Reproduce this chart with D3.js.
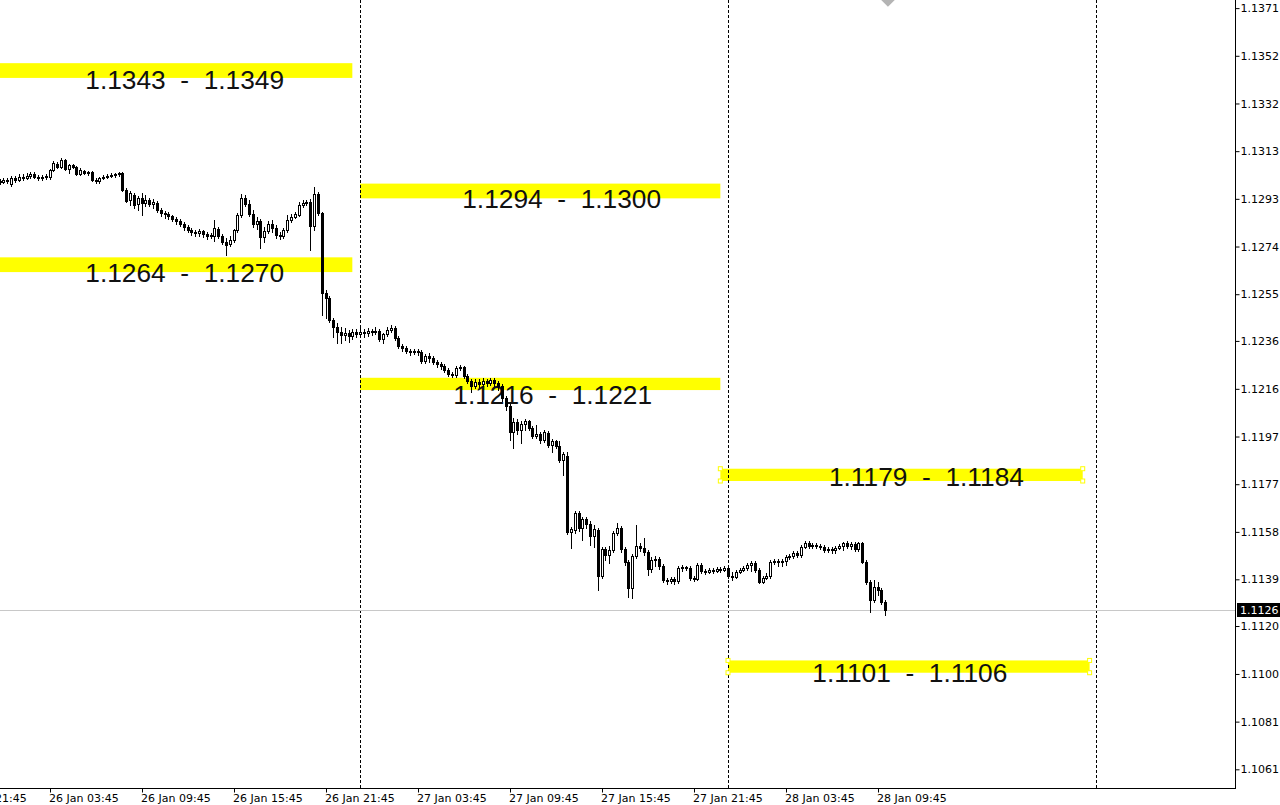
<!DOCTYPE html>
<html>
<head>
<meta charset="utf-8">
<script src="https://cdnjs.cloudflare.com/ajax/libs/d3/7.8.5/d3.min.js"></script>
<style>
  html, body { margin: 0; padding: 0; background: #fff; }
  svg { display: block; }
</style>
</head>
<body>
<div id="chart"></div>
<script>
// M15 candles, [open, high, low, close], one row per 15 minutes.
const jan26Start = "2022-01-26T00:30";
const jan26Bars = [
  [1.13010,1.13018,1.12998,1.13006],[1.13006,1.13023,1.13002,1.13014],[1.13014,1.13023,1.13002,1.13010],
  [1.12998,1.13031,1.12990,1.13023],[1.13023,1.13031,1.13006,1.13014],[1.13014,1.13039,1.13010,1.13027],
  [1.13027,1.13039,1.13014,1.13023],[1.13023,1.13043,1.13018,1.13031],[1.13031,1.13047,1.13023,1.13039],
  [1.13039,1.13047,1.13023,1.13027],[1.13027,1.13035,1.13014,1.13023],[1.13023,1.13035,1.13014,1.13027],
  [1.13027,1.13039,1.13018,1.13031],[1.13027,1.13059,1.13018,1.13055],[1.13055,1.13092,1.13051,1.13084],
  [1.13080,1.13088,1.13063,1.13067],[1.13067,1.13104,1.13063,1.13096],[1.13096,1.13100,1.13055,1.13059],
  [1.13059,1.13080,1.13043,1.13075],[1.13075,1.13080,1.13063,1.13067],[1.13067,1.13071,1.13035,1.13039],
  [1.13039,1.13063,1.13035,1.13055],[1.13051,1.13055,1.13039,1.13043],[1.13043,1.13051,1.13035,1.13047],
  [1.13047,1.13051,1.13010,1.13014],[1.13014,1.13023,1.13002,1.13010],[1.13010,1.13027,1.13002,1.13023],
  [1.13023,1.13035,1.13018,1.13027],[1.13027,1.13039,1.13023,1.13031],[1.13031,1.13043,1.13027,1.13035],
  [1.13035,1.13043,1.13027,1.13039],[1.13039,1.13047,1.13031,1.13043],[1.13043,1.13047,1.12970,1.12974],
  [1.12974,1.12982,1.12925,1.12929],[1.12933,1.12970,1.12913,1.12962],[1.12953,1.12962,1.12900,1.12913],
  [1.12917,1.12949,1.12892,1.12941],[1.12941,1.12962,1.12872,1.12921],[1.12921,1.12953,1.12909,1.12933],
  [1.12933,1.12941,1.12909,1.12917],[1.12917,1.12937,1.12900,1.12925],[1.12921,1.12929,1.12884,1.12892],
  [1.12892,1.12900,1.12868,1.12880],[1.12880,1.12888,1.12860,1.12876],[1.12876,1.12884,1.12856,1.12868],
  [1.12868,1.12872,1.12848,1.12856],[1.12856,1.12864,1.12835,1.12848],[1.12848,1.12856,1.12827,1.12835],
  [1.12835,1.12843,1.12811,1.12823],[1.12823,1.12831,1.12803,1.12811],[1.12811,1.12819,1.12791,1.12803],
  [1.12803,1.12811,1.12786,1.12799],[1.12799,1.12815,1.12786,1.12807],[1.12807,1.12811,1.12782,1.12795],
  [1.12795,1.12803,1.12774,1.12786],[1.12786,1.12799,1.12778,1.12791],[1.12786,1.12852,1.12766,1.12819],
  [1.12815,1.12823,1.12778,1.12786],[1.12786,1.12795,1.12754,1.12762],[1.12762,1.12778,1.12709,1.12750],
  [1.12754,1.12786,1.12746,1.12770],[1.12770,1.12815,1.12762,1.12811],[1.12811,1.12880,1.12803,1.12872],
  [1.12872,1.12957,1.12864,1.12941],[1.12941,1.12953,1.12909,1.12917],[1.12917,1.12933,1.12868,1.12876],
  [1.12876,1.12892,1.12823,1.12835],[1.12835,1.12864,1.12815,1.12848],[1.12848,1.12856,1.12738,1.12782],
  [1.12782,1.12823,1.12762,1.12807],[1.12807,1.12848,1.12799,1.12835],[1.12835,1.12852,1.12803,1.12819],
  [1.12819,1.12831,1.12778,1.12791],[1.12791,1.12803,1.12774,1.12786],[1.12786,1.12819,1.12778,1.12811],
  [1.12811,1.12872,1.12803,1.12852],[1.12852,1.12876,1.12843,1.12864],[1.12864,1.12884,1.12860,1.12876],
  [1.12872,1.12925,1.12868,1.12913],[1.12913,1.12933,1.12905,1.12921],[1.12921,1.12933,1.12913,1.12925],
  [1.12925,1.12937,1.12730,1.12827],[1.12827,1.12986,1.12811,1.12957],[1.12957,1.12966,1.12872,1.12880],
  [1.12880,1.12884,1.12465,1.12554],[1.12554,1.12567,1.12453,1.12534],[1.12534,1.12542,1.12436,1.12445],
  [1.12445,1.12453,1.12375,1.12416],[1.12416,1.12432,1.12351,1.12396],[1.12396,1.12416,1.12351,1.12384],
  [1.12384,1.12412,1.12363,1.12392],[1.12392,1.12404,1.12355,1.12380],[1.12380,1.12408,1.12367,1.12396],
  [1.12396,1.12408,1.12375,1.12388]
];

const jan27Start = "2022-01-27T00:00";
const jan27Bars = [
  [1.12388,1.12412,1.12380,1.12396],[1.12396,1.12408,1.12375,1.12392],[1.12392,1.12412,1.12380,1.12400],
  [1.12400,1.12408,1.12384,1.12396],[1.12396,1.12416,1.12388,1.12400],[1.12400,1.12408,1.12359,1.12367],
  [1.12367,1.12392,1.12351,1.12388],[1.12388,1.12416,1.12380,1.12404],[1.12404,1.12424,1.12396,1.12412],
  [1.12412,1.12420,1.12363,1.12371],[1.12371,1.12380,1.12331,1.12339],[1.12339,1.12347,1.12318,1.12331],
  [1.12331,1.12339,1.12310,1.12318],[1.12318,1.12327,1.12302,1.12314],[1.12314,1.12327,1.12306,1.12318],
  [1.12318,1.12327,1.12302,1.12314],[1.12314,1.12323,1.12270,1.12278],[1.12278,1.12306,1.12270,1.12298],
  [1.12298,1.12310,1.12274,1.12290],[1.12290,1.12298,1.12266,1.12274],[1.12274,1.12282,1.12253,1.12266],
  [1.12266,1.12274,1.12245,1.12257],[1.12257,1.12266,1.12233,1.12241],[1.12241,1.12249,1.12217,1.12225],
  [1.12225,1.12233,1.12213,1.12221],[1.12221,1.12257,1.12213,1.12249],[1.12249,1.12261,1.12241,1.12253],
  [1.12253,1.12257,1.12209,1.12217],[1.12217,1.12225,1.12188,1.12196],[1.12196,1.12205,1.12152,1.12176],
  [1.12176,1.12205,1.12168,1.12192],[1.12192,1.12205,1.12172,1.12184],[1.12184,1.12209,1.12176,1.12196],
  [1.12196,1.12205,1.12176,1.12188],[1.12188,1.12209,1.12180,1.12200],[1.12200,1.12209,1.12176,1.12188],
  [1.12188,1.12196,1.12160,1.12176],[1.12176,1.12184,1.12115,1.12127],[1.12127,1.12135,1.12078,1.12095],
  [1.12095,1.12103,1.11956,1.11989],[1.11989,1.12046,1.11924,1.12030],[1.12030,1.12042,1.11981,1.11997],
  [1.11997,1.12034,1.11944,1.12021],[1.12021,1.12042,1.11997,1.12034],[1.12034,1.12038,1.11997,1.12005],
  [1.12005,1.12013,1.11964,1.11973],[1.11973,1.12017,1.11964,1.11981],[1.11981,1.11989,1.11944,1.11956],
  [1.11956,1.11997,1.11948,1.11989],[1.11985,1.11993,1.11928,1.11936],[1.11936,1.11960,1.11907,1.11952],
  [1.11952,1.11956,1.11924,1.11932],[1.11932,1.11952,1.11867,1.11875],[1.11875,1.11907,1.11814,1.11899],
  [1.11891,1.11907,1.11574,1.11582],[1.11582,1.11602,1.11517,1.11594],[1.11590,1.11667,1.11578,1.11659],
  [1.11659,1.11667,1.11586,1.11598],[1.11598,1.11643,1.11549,1.11635],[1.11635,1.11643,1.11598,1.11614],
  [1.11614,1.11627,1.11529,1.11566],[1.11566,1.11610,1.11521,1.11594],[1.11590,1.11598,1.11346,1.11403],
  [1.11403,1.11521,1.11395,1.11513],[1.11513,1.11521,1.11468,1.11488],[1.11488,1.11525,1.11456,1.11509],
  [1.11509,1.11586,1.11500,1.11578],[1.11578,1.11618,1.11570,1.11598],[1.11598,1.11606,1.11500,1.11513],
  [1.11513,1.11521,1.11447,1.11460],[1.11460,1.11468,1.11317,1.11354],[1.11354,1.11492,1.11313,1.11484],
  [1.11484,1.11610,1.11476,1.11525],[1.11525,1.11537,1.11504,1.11517],[1.11517,1.11557,1.11488,1.11500],
  [1.11500,1.11509,1.11407,1.11431],[1.11431,1.11480,1.11419,1.11468],[1.11468,1.11484,1.11443,1.11472],
  [1.11472,1.11480,1.11431,1.11443],[1.11443,1.11452,1.11378,1.11386],[1.11386,1.11395,1.11370,1.11382],
  [1.11382,1.11399,1.11374,1.11391],[1.11391,1.11399,1.11370,1.11382],[1.11382,1.11443,1.11374,1.11435],
  [1.11435,1.11447,1.11423,1.11439],[1.11439,1.11443,1.11427,1.11435],[1.11435,1.11443,1.11386,1.11395],
  [1.11395,1.11403,1.11382,1.11391],[1.11391,1.11456,1.11386,1.11447],[1.11447,1.11456,1.11415,1.11423],
  [1.11423,1.11431,1.11411,1.11419],[1.11419,1.11435,1.11415,1.11427],[1.11427,1.11435,1.11415,1.11423],
  [1.11423,1.11439,1.11419,1.11431],[1.11431,1.11439,1.11419,1.11427],[1.11427,1.11443,1.11423,1.11435]
];

const jan28Start = "2022-01-28T00:00";
const jan28Bars = [
  [1.11435,1.11443,1.11395,1.11403],[1.11403,1.11419,1.11386,1.11399],[1.11399,1.11427,1.11395,1.11419],
  [1.11419,1.11435,1.11415,1.11427],[1.11427,1.11443,1.11423,1.11435],[1.11435,1.11456,1.11427,1.11447],
  [1.11447,1.11464,1.11423,1.11456],[1.11456,1.11464,1.11419,1.11427],[1.11427,1.11435,1.11374,1.11378],
  [1.11378,1.11403,1.11374,1.11395],[1.11395,1.11415,1.11391,1.11403],[1.11403,1.11468,1.11395,1.11460],
  [1.11460,1.11472,1.11452,1.11464],[1.11464,1.11472,1.11443,1.11460],[1.11460,1.11472,1.11443,1.11464],
  [1.11464,1.11488,1.11447,1.11480],[1.11480,1.11492,1.11472,1.11484],[1.11484,1.11504,1.11476,1.11496],
  [1.11496,1.11504,1.11480,1.11488],[1.11488,1.11529,1.11480,1.11521],[1.11521,1.11545,1.11517,1.11537],
  [1.11537,1.11545,1.11517,1.11525],[1.11525,1.11537,1.11517,1.11529],[1.11529,1.11537,1.11517,1.11525],
  [1.11525,1.11533,1.11513,1.11521],[1.11521,1.11529,1.11500,1.11509],[1.11509,1.11521,1.11500,1.11513],
  [1.11513,1.11521,1.11496,1.11509],[1.11509,1.11525,1.11496,1.11517],[1.11517,1.11533,1.11513,1.11525],
  [1.11525,1.11541,1.11509,1.11537],[1.11537,1.11545,1.11517,1.11525],[1.11525,1.11541,1.11513,1.11533],
  [1.11533,1.11541,1.11504,1.11513],[1.11513,1.11541,1.11504,1.11537],[1.11537,1.11541,1.11456,1.11460],
  [1.11460,1.11468,1.11370,1.11378],[1.11378,1.11386,1.11256,1.11305],[1.11305,1.11386,1.11297,1.11358],
  [1.11358,1.11378,1.11325,1.11346],[1.11346,1.11354,1.11289,1.11297],[1.11297,1.11305,1.11244,1.11264]
];

// Zones drawn as rectangles.
const zoneLow = [1.1343, 1.1264, 1.1294, 1.1216, 1.1179, 1.1101];
const zoneHigh = [1.1349, 1.1270, 1.1300, 1.1221, 1.1184, 1.1106];
const zoneFrom = ["2022-01-25T12:00", "2022-01-25T12:00", "2022-01-27T00:00", "2022-01-27T00:00", "2022-01-27T23:30", "2022-01-28T00:00"];
const zoneTo = ["2022-01-26T23:30", "2022-01-26T23:30", "2022-01-27T23:30", "2022-01-27T23:30", "2022-01-28T23:08", "2022-01-28T23:35"];
const zoneSelected = [false, false, false, false, true, true];
// Text objects (left / baseline anchor).
const labelTime = ["2022-01-26T06:05", "2022-01-26T06:05", "2022-01-27T06:40", "2022-01-27T06:05", "2022-01-28T06:35", "2022-01-28T05:30"];
const labelPrice = [1.13384, 1.12599, 1.12899, 1.12103, 1.11769, 1.10971];

const priceTicks = [1.13714, 1.13520, 1.13326, 1.13132, 1.12938, 1.12744, 1.12550, 1.12360, 1.12165,
                    1.11971, 1.11777, 1.11583, 1.11390, 1.11200, 1.11005, 1.10811, 1.10617];
const timeTicks = ["2022-01-25T21:45", "2022-01-26T03:45", "2022-01-26T09:45", "2022-01-26T15:45",
                   "2022-01-26T21:45", "2022-01-27T03:45", "2022-01-27T09:45", "2022-01-27T15:45",
                   "2022-01-27T21:45", "2022-01-28T03:45", "2022-01-28T09:45"];
const daySeparators = ["2022-01-27T00:00", "2022-01-28T00:00", "2022-01-29T00:00"];
const bidPrice = 1.11264;
const marker = {time: "2022-01-28T10:26", price: 1.13752};

const width = 1280, height = 805;
const plotRight = 1235, plotBottom = 788;

const parse = d3.utcParse("%Y-%m-%dT%H:%M");
// Price labels are shown with four digits (truncated, as the terminal does).
const priceLabel = v => (Math.floor(v * 10000 + 1e-6) / 10000).toFixed(4);

const x = d3.scaleUtc()
    .domain([parse("2022-01-26T00:00"), parse("2022-01-29T00:00")])
    .range([-8, 1096]);

const y = d3.scaleLinear()
    .domain([1.10541, 1.13747])
    .range([plotBottom, 0]);

function expand(rows, start) {
    const t0 = +parse(start);
    return rows.map((r, i) => ({
        t: new Date(t0 + i * 15 * 60000),
        o: r[0], h: r[1], l: r[2], c: r[3],
    }));
}

const bars = [
    ...expand(jan26Bars, jan26Start),
    ...expand(jan27Bars, jan27Start),
    ...expand(jan28Bars, jan28Start),
];

const zones = zoneLow.map((lo, i) => ({
    lo: lo, hi: zoneHigh[i],
    from: parse(zoneFrom[i]), to: parse(zoneTo[i]),
    selected: zoneSelected[i],
    labelT: parse(labelTime[i]), labelP: labelPrice[i],
}));

const svg = d3.select("#chart")
    .append("svg")
    .attr("width", width)
    .attr("height", height)
    .style("font-family", "'DejaVu Sans', Verdana, sans-serif");

svg.append("defs")
    .append("clipPath")
    .attr("id", "plot-clip")
    .append("rect")
    .attr("x", 0).attr("y", 0)
    .attr("width", plotRight).attr("height", plotBottom);

const plot = svg.append("g").attr("clip-path", "url(#plot-clip)");

// Yellow zones
plot.append("g")
    .selectAll("rect")
    .data(zones)
    .join("rect")
    .attr("x", d => x(d.from))
    .attr("width", d => x(d.to) - x(d.from))
    .attr("y", d => y(d.hi))
    .attr("height", d => y(d.lo) - y(d.hi))
    .attr("fill", "#ffff00");

// Zone texts
plot.append("g")
    .selectAll("text")
    .data(zones)
    .join("text")
    .attr("x", d => x(d.labelT))
    .attr("y", d => y(d.labelP))
    .attr("font-family", "'Liberation Sans', Arial, sans-serif")
    .attr("font-size", 26.3)
    .attr("fill", "#111")
    .style("white-space", "pre")
    .text(d => d.lo.toFixed(4) + "  -  " + d.hi.toFixed(4));

// Day separators
plot.append("g")
    .selectAll("line")
    .data(daySeparators.map(parse))
    .join("line")
    .attr("x1", d => Math.round(x(d)) + 0.5)
    .attr("x2", d => Math.round(x(d)) + 0.5)
    .attr("y1", 0)
    .attr("y2", plotBottom)
    .attr("stroke", "#000")
    .attr("stroke-dasharray", "3,2");

// Bid line
plot.append("line")
    .attr("x1", 0).attr("x2", plotRight)
    .attr("y1", Math.round(y(bidPrice)) + 0.5)
    .attr("y2", Math.round(y(bidPrice)) + 0.5)
    .attr("stroke", "#c8c8c8");

// Candles
const candles = plot.append("g").attr("shape-rendering", "crispEdges");

candles.selectAll("line")
    .data(bars)
    .join("line")
    .attr("x1", d => Math.round(x(d.t)) + 0.5)
    .attr("x2", d => Math.round(x(d.t)) + 0.5)
    .attr("y1", d => Math.round(y(d.h)))
    .attr("y2", d => Math.round(y(d.l)) + 1)
    .attr("stroke", "#000");

candles.selectAll("rect")
    .data(bars)
    .join("rect")
    .each(function (d) {
        const cx = Math.round(x(d.t));
        const top = Math.round(y(Math.max(d.o, d.c)));
        const bot = Math.round(y(Math.min(d.o, d.c)));
        const r = d3.select(this);
        if (d.c > d.o && bot - top >= 2) {
            r.attr("x", cx - 0.5).attr("width", 2)
                .attr("y", top + 0.5).attr("height", bot - top)
                .attr("fill", "#fff").attr("stroke", "#000");
        } else {
            r.attr("x", cx - 1).attr("width", 3)
                .attr("y", top).attr("height", Math.max(1, bot - top + 1))
                .attr("fill", "#000");
        }
    });

// Selection handles on the selected zones
const handles = [];
zones.filter(z => z.selected).forEach(z => {
    [z.from, z.to].forEach(t => {
        [z.hi, z.lo].forEach(p => handles.push({t: t, p: p}));
    });
});
svg.append("g")
    .selectAll("rect")
    .data(handles)
    .join("rect")
    .attr("x", d => x(d.t) - 2)
    .attr("y", d => y(d.p) - 2)
    .attr("width", 4)
    .attr("height", 4)
    .attr("fill", "#fff")
    .attr("stroke", "#ffff00");

// Grey marker at the top edge
plot.append("path")
    .attr("transform", `translate(${x(parse(marker.time))},${y(marker.price)})`)
    .attr("d", "M0,-8L8,0L0,8L-8,0Z")
    .attr("fill", "#b4b4b4");

// Price axis
const yAxis = d3.axisRight(y)
    .tickValues(priceTicks)
    .tickFormat(priceLabel)
    .tickSize(4)
    .tickSizeOuter(0)
    .tickPadding(1);

const yg = svg.append("g")
    .attr("transform", `translate(${plotRight + 0.5},0)`)
    .call(yAxis);
yg.select(".domain").remove();
yg.selectAll("text").attr("font-size", 11).attr("font-family", "'DejaVu Sans', Verdana, sans-serif").attr("fill", "#000");
yg.selectAll("line").attr("stroke", "#000");

// Time axis
const xAxis = d3.axisBottom(x)
    .tickValues(timeTicks.map(parse))
    .tickFormat(d3.utcFormat("%d %b %H:%M"))
    .tickSize(4)
    .tickSizeOuter(0)
    .tickPadding(2);

const xg = svg.append("g")
    .attr("transform", `translate(0,${plotBottom + 0.5})`)
    .call(xAxis);
xg.select(".domain").remove();
xg.selectAll(".tick line").attr("transform", "translate(0.5,0)").attr("stroke", "#000");
xg.selectAll("text")
    .attr("text-anchor", "start")
    .attr("x", -1)
    .attr("font-size", 11)
    .attr("font-family", "'DejaVu Sans', Verdana, sans-serif")
    .attr("fill", "#000");

// Frame lines
svg.append("line")
    .attr("x1", plotRight + 0.5).attr("x2", plotRight + 0.5)
    .attr("y1", 0).attr("y2", plotBottom + 1)
    .attr("stroke", "#000");
svg.append("line")
    .attr("x1", 0).attr("x2", plotRight + 1)
    .attr("y1", plotBottom + 0.5).attr("y2", plotBottom + 0.5)
    .attr("stroke", "#000");

// Bid price label
const bidY = Math.round(y(bidPrice));
svg.append("rect")
    .attr("x", plotRight + 2)
    .attr("y", bidY - 7)
    .attr("width", width - plotRight - 2)
    .attr("height", 14)
    .attr("fill", "#000");
svg.append("text")
    .attr("x", plotRight + 5)
    .attr("y", bidY)
    .attr("dy", "0.35em")
    .attr("font-size", 11)
    .attr("fill", "#fff")
    .text(priceLabel(bidPrice));
</script>
</body>
</html>
